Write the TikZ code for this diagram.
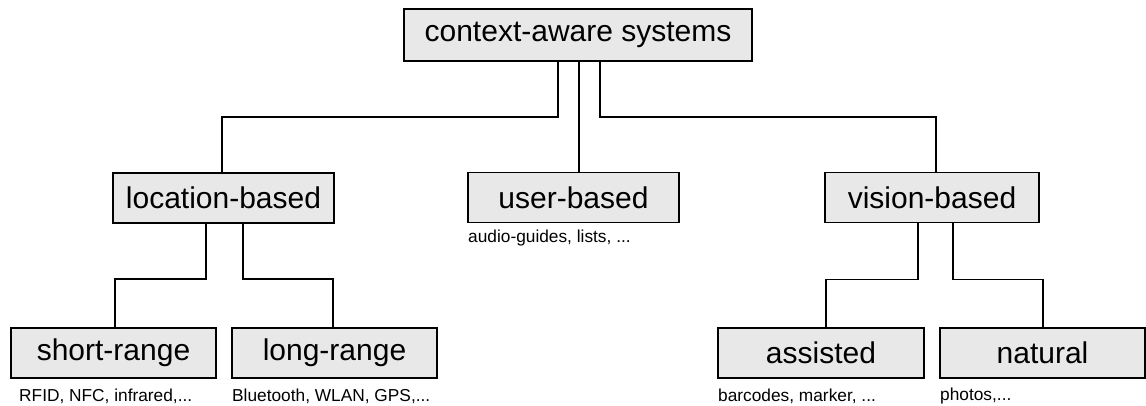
\documentclass[tikz,border=0pt]{standalone}
\usepackage{fontspec}
\setmainfont{Liberation Sans}
\begin{document}
\begin{tikzpicture}[x=1pt,y=-1pt,
  box/.style={draw=black, line width=1.8pt, fill=boxgray, inner sep=0pt,
    minimum height=50pt, font=\fontsize{30}{36}\selectfont},
  note/.style={anchor=west, inner sep=0pt, font=\fontsize{17.3}{20}\selectfont},
  link/.style={draw=black, line width=1.8pt}]
\definecolor{boxgray}{RGB}{232,232,232}
\useasboundingbox (0,0) rectangle (1146,405);

% boxes
\node[box, minimum width=348pt, minimum height=52pt] (top) at (578,35) {context-aware systems};
\node[box, minimum width=221pt] (loc) at (223.5,198) {location-based};
\node[box, minimum width=211pt] (user) at (573.5,197.5) {user-based};
\node[box, minimum width=214pt] (vis) at (932,197.5) {vision-based};
\node[box, minimum width=205pt] (short) at (113.5,353) {short-range};
\node[box, minimum width=205pt] (long) at (334.5,353) {long-range};
\node[box, minimum width=206pt] (asst) at (821,353) {assisted};
\node[box, minimum width=205pt] (nat) at (1042.5,353) {natural};

% example notes
\node[note] (nshort) at (19,396) {RFID, NFC, infrared,...};
\node[note] (nlong) at (232,396) {Bluetooth, WLAN, GPS,...};
\node[note] (nuser) at (468,238) {audio-guides, lists, ...};
\node[note] (nasst) at (718,396) {barcodes, marker, ...};
\node[note] (nnat) at (940,396) {photos,...};

% connectors
\draw[link] ([xshift=-20pt]top.south) -- ++(0,55) -| ([xshift=-1.5pt]loc.north);
\draw[link] ([xshift=1pt]top.south) -- ([xshift=5.5pt]user.north);
\draw[link] ([xshift=22pt]top.south) -- ++(0,55) -| ([xshift=4pt]vis.north);
\draw[link] ([xshift=-17.5pt]loc.south) -- ++(0,55) -| ([xshift=1.5pt]short.north);
\draw[link] ([xshift=19.5pt]loc.south) -- ++(0,55) -| ([xshift=-1.5pt]long.north);
\draw[link] ([xshift=-14pt]vis.south) -- ++(0,56) -| ([xshift=5pt]asst.north);
\draw[link] ([xshift=21pt]vis.south) -- ++(0,56) -| ([xshift=0.5pt]nat.north);
\end{tikzpicture}
\end{document}
